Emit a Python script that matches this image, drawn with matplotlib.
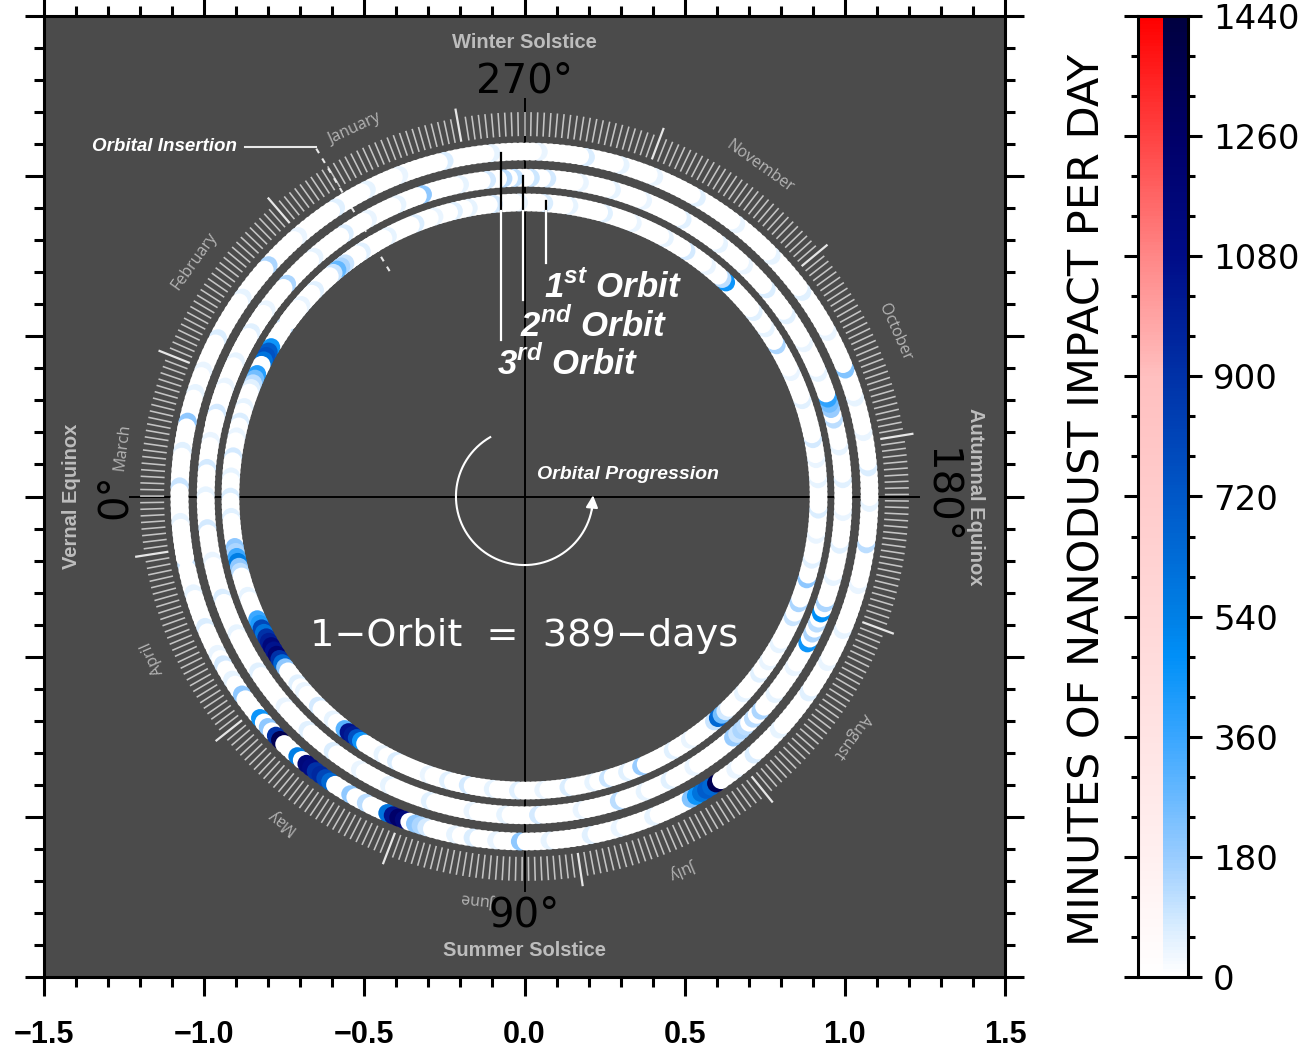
import numpy as np
import matplotlib
matplotlib.use('Agg')
import matplotlib.pyplot as plt
from matplotlib.colors import LinearSegmentedColormap, Normalize
from matplotlib.collections import LineCollection
from matplotlib.ticker import MultipleLocator

plt.rcParams['mathtext.fontset'] = 'custom'
plt.rcParams['mathtext.bf'] = 'Liberation Sans:bold:italic'
plt.rcParams['mathtext.rm'] = 'Liberation Sans:bold:italic'

ORBIT_DAYS = 389
INSERT_LON = 300.9          # solar longitude at orbital insertion (deg)
DEG_PER_DAY = 360 / 365.25

# minutes of nanodust impact per day, for each orbit (unlisted days are 0)
orbit1_days = [2, 5, 8, 12, 15, 18, 20, 24, 29, 30, 31, 32, 35, 36, 37, 38,
               42, 45, 48, 52, 56, 60, 64, 70, 71, 72, 73, 74, 75, 80,
               85, 86, 87, 88, 89, 90, 91, 92, 93, 94, 95, 96, 100, 102, 106, 110,
               113, 114, 115, 116, 117, 122, 125, 132, 136, 140, 145, 150, 155,
               160, 165, 168, 172, 175, 182, 186, 192, 193, 194, 195, 200, 205,
               208, 212, 218, 221, 226, 230, 235, 240, 246, 250, 254, 262, 268,
               274, 278, 282, 290, 291, 295, 300, 305, 312, 318, 325, 330, 335,
               340, 345, 348, 352, 356, 362, 368, 372, 373, 374, 375, 380, 384]
orbit1_minutes = [60, 70, 50, 60, 40, 80, 50, 100, 450, 700, 750, 600, 400, 250, 120, 60,
                  50, 70, 40, 80, 50, 70, 60, 200, 150, 350, 550, 200, 120, 50,
                  350, 420, 800, 600, 900, 1000, 1150, 1050, 1200, 900, 650, 200, 60, 40, 80, 50,
                  300, 1050, 1000, 750, 450, 50, 70, 40, 60, 80, 50, 60, 40,
                  70, 50, 100, 60, 180, 60, 40, 100, 650, 250, 80, 50, 60,
                  40, 50, 100, 150, 200, 60, 40, 70, 50, 40, 80, 60, 40,
                  150, 50, 60, 450, 120, 40, 80, 50, 40, 60, 50, 70, 40,
                  80, 50, 60, 40, 70, 50, 60, 100, 150, 280, 100, 60, 40]

orbit2_days = [2, 5, 10, 15, 26, 31, 36, 42, 48, 55, 62, 70, 78, 84, 90, 96,
               102, 110, 118, 124, 130, 138, 145, 150, 155, 160, 169, 170, 171,
               172, 174, 176, 180, 186, 191, 193, 195, 197, 199, 204, 210, 216,
               222, 228, 233, 235, 236, 237, 242, 248, 254, 260, 266, 272, 280,
               288, 294, 300, 306, 309, 312, 314, 317, 322, 329, 334, 340, 345,
               352, 359, 365, 370, 376, 381, 386]
orbit2_minutes = [50, 60, 40, 70, 40, 80, 50, 80, 40, 70, 50, 60, 40, 60, 70, 40,
                  50, 60, 40, 50, 80, 40, 120, 50, 60, 40, 180, 100, 150,
                  120, 120, 150, 50, 40, 450, 150, 120, 480, 150, 50, 60, 40,
                  60, 50, 120, 180, 250, 380, 50, 40, 60, 70, 40, 50, 60,
                  40, 50, 40, 80, 90, 110, 120, 80, 50, 200, 50, 40, 70,
                  50, 150, 40, 60, 50, 40, 80]

orbit3_days = [3, 7, 10, 15, 19, 24, 29, 35, 40, 42, 45, 48, 53, 55, 57, 58,
               62, 64, 65, 66, 67, 68, 69, 73, 76, 80, 81, 82, 83, 85, 86, 87,
               92, 95, 99, 103, 108, 115, 120, 126, 133, 134, 135, 136, 137, 138,
               142, 146, 152, 160, 166, 172, 180, 187, 194, 200, 206, 212, 217,
               224, 232, 240, 248, 256, 264, 270, 276, 284, 292, 300, 308, 314,
               320, 328, 335, 342, 350, 356, 360, 365, 370, 376, 382]
orbit3_minutes = [50, 40, 60, 50, 40, 100, 50, 70, 40, 80, 50, 200, 450, 200, 900, 1350,
                  550, 1150, 1100, 900, 950, 800, 650, 200, 120, 600, 1050, 1250, 1150, 200, 150, 80,
                  50, 70, 40, 200, 50, 60, 40, 50, 220, 450, 600, 700, 650, 1350,
                  40, 70, 50, 60, 40, 50, 40, 120, 50, 70, 40, 50, 220,
                  40, 60, 50, 40, 60, 40, 50, 70, 40, 50, 70, 40, 50,
                  60, 40, 150, 50, 70, 40, 50, 200, 60, 100, 50]

orbits = [(orbit1_days, orbit1_minutes),
          (orbit2_days, orbit2_minutes),
          (orbit3_days, orbit3_minutes)]
ring_radius = [0.918, 0.995, 1.077]

month_start_doy = [1, 32, 60, 91, 121, 152, 182, 213, 244, 274, 305, 335]
month_names = ['January', 'February', 'March', 'April', 'May', 'June',
               'July', 'August', 'October', 'November']
month_mid_doy = [16, 46, 75, 106, 136, 167, 197, 228, 289, 320]

cbar_ticks = [0, 180, 360, 540, 720, 900, 1080, 1260, 1440]

blue_cmap = LinearSegmentedColormap.from_list('dust_blue', [
    (0.0, '#ffffff'), (0.042, '#dff0ff'), (0.125, '#98ccff'),
    (0.25, '#38a6ff'), (0.333, '#0090f8'), (0.375, '#0080e6'),
    (0.5, '#0058c8'), (0.625, '#0032a8'), (0.75, '#000d88'),
    (0.875, '#000068'), (1.0, '#000040')])
red_cmap = LinearSegmentedColormap.from_list('dust_red', [
    (0.0, '#ffffff'), (0.125, '#fff0f0'), (0.25, '#ffe4e4'),
    (0.375, '#ffd8d8'), (0.625, '#ffc0c0'), (0.75, '#ff8888'),
    (0.875, '#ff4444'), (1.0, '#ff0000')])
norm = Normalize(0, 1440)

BG = '#4b4b4b'
GREY = '#bdbdbd'
NARROW = ['Liberation Sans Narrow', 'Liberation Sans', 'DejaVu Sans']


def lon_xy(lon, r):
    t = np.deg2rad(lon)
    return -r * np.cos(t), -r * np.sin(t)


def doy_lon(doy):
    return 270 + (np.asarray(doy) - 356) * DEG_PER_DAY


fig = plt.figure(figsize=(13.06, 10.58), dpi=100)
ax = fig.add_axes([44 / 1306, 81 / 1058, 961 / 1306, 961 / 1058])
ax.set_facecolor(BG)
ax.set_xlim(-1.5, 1.5)
ax.set_ylim(-1.5, 1.5)
for a in (ax.xaxis, ax.yaxis):
    a.set_major_locator(MultipleLocator(0.5))
    a.set_minor_locator(MultipleLocator(0.1))
ax.tick_params(which='both', direction='out', top=True, right=True,
               labelleft=False, width=2.2, colors='black')
ax.tick_params(which='major', length=14, pad=17, labelsize=22)
ax.tick_params(which='minor', length=7)
for s in ax.spines.values():
    s.set_linewidth(2.2)
for lab in ax.get_xticklabels():
    lab.set_family(NARROW)
    lab.set_weight('bold')

# reference cross
ax.plot([-1.23, 1.23], [0, 0], color='black', lw=1.4, zorder=1)
ax.plot([0, 0], [-1.23, 1.24], color='black', lw=1.4, zorder=1)

# day ticks around the year, longer at the start of each month
doy = np.arange(1, 366)
tick_lon = doy_lon(doy)
is_month = np.isin(doy, month_start_doy)
segs = []
for lon, m in zip(tick_lon, is_month):
    x0, y0 = lon_xy(lon, 1.125)
    x1, y1 = lon_xy(lon, 1.23 if m else 1.20)
    segs.append([(x0, y0), (x1, y1)])
ax.add_collection(LineCollection(segs, colors=[('#e6e6e6' if m else '#c4c4c4') for m in is_month],
                                 linewidths=[1.6 if m else 1.15 for m in is_month], zorder=2))

for name, mid in zip(month_names, month_mid_doy):
    lon = float(doy_lon(mid))
    x, y = lon_xy(lon, 1.265)
    ax.text(x, y, name, rotation=lon + 90, rotation_mode='anchor',
            ha='center', va='center', color='#b4b4b4', fontsize=11.5,
            family=['Open Sans', 'DejaVu Sans'])

# orbital insertion marker
x0, y0 = lon_xy(INSERT_LON, 0.82)
x1, y1 = lon_xy(INSERT_LON, 1.267)
ax.plot([x0, x1], [y0, y1], color='#e8e8e8', lw=1.5, dashes=(2.5, 3), zorder=2)
ax.plot([-0.873, x1], [1.092, 1.092], color='#e8e8e8', lw=1.5, zorder=2)
ax.text(-0.898, 1.092, 'Orbital Insertion', ha='right', va='center', color='white',
        fontsize=13.5, weight='bold', style='italic', family=NARROW)

# the three orbits, one ring each
for k, (days, mins) in enumerate(orbits):
    minutes = np.zeros(ORBIT_DAYS)
    minutes[days] = mins
    d = np.arange(ORBIT_DAYS)
    lon = INSERT_LON + (ORBIT_DAYS * k + d) * DEG_PER_DAY
    x, y = lon_xy(lon, ring_radius[k])
    ax.scatter(x, y, c=minutes, cmap=blue_cmap, norm=norm, s=168,
               linewidths=0, zorder=3)

# orbit pointers
for px, ytop, ybot, lab, lx, ly in [(0.067, 0.921, 0.73, r'1$^{\mathbf{st}}$ Orbit', 0.275, 0.652),
                                    (-0.005, 1.0, 0.614, r'2$^{\mathbf{nd}}$ Orbit', 0.215, 0.534),
                                    (-0.073, 1.073, 0.489, r'3$^{\mathbf{rd}}$ Orbit', 0.133, 0.415)]:
    ax.plot([px, px], [ytop, 0.89], color='black', lw=1.6, zorder=4)
    ax.plot([px, px], [0.89, ybot], color='white', lw=1.6, zorder=4)
    ax.text(lx, ly, lab, ha='center', va='center', color='white', fontsize=25,
            weight='bold', style='italic', family='Liberation Sans', zorder=5)

# orbital progression arrow
arc = np.linspace(300, 530, 200)
ax.plot(*lon_xy(arc, 0.214), color='white', lw=1.5, zorder=4)
ax.annotate('', xy=lon_xy(541, 0.214), xytext=lon_xy(529, 0.214),
            arrowprops=dict(arrowstyle='-|>', color='white', lw=1.5,
                            mutation_scale=18, shrinkA=0, shrinkB=0), zorder=4)
ax.text(0.039, 0.07, 'Orbital Progression', ha='left', va='center', color='white',
        fontsize=14, weight='bold', style='italic', family=NARROW)

ax.text(0, -0.436, '1\u2212Orbit  =  389\u2212days', ha='center', va='center',
        color='white', fontsize=27.5, family='DejaVu Sans')

# cardinal labels
deg = dict(ha='center', va='center', fontsize=29)
ax.text(0, 1.295, '270°', **deg)
ax.text(0, -1.308, '90°', **deg)
ax.text(-1.28, 0, '0°', rotation=90, **deg)
ax.text(1.298, 0, '180°', rotation=-90, **deg)
sol = dict(ha='center', va='center', color=GREY, fontsize=14.5, weight='bold',
           family='Liberation Sans')
ax.text(0, 1.417, 'Winter Solstice', **sol)
ax.text(0, -1.417, 'Summer Solstice', **sol)
ax.text(-1.414, 0, 'Vernal Equinox', rotation=90, **sol)
ax.text(1.408, 0, 'Autumnal Equinox', rotation=-90, **sol)

# two-column colour bar
cax = fig.add_axes([1138 / 1306, 81 / 1058, 50 / 1306, 961 / 1058])
v = np.linspace(0, 1440, 600)
img = np.stack([red_cmap(norm(v)), blue_cmap(norm(v))], axis=1)
cax.imshow(img, origin='lower', extent=[0, 2, 0, 1440], aspect='auto',
           interpolation='nearest')
cax.set_xlim(0, 2)
cax.set_ylim(0, 1440)
cax.set_xticks([])
cax.set_yticks(cbar_ticks)
cax.yaxis.set_minor_locator(MultipleLocator(60))
cax.tick_params(which='both', left=True, right=True, labelleft=False,
                labelright=True, width=2.2, direction='out')
cax.tick_params(which='major', length=10, labelsize=24.5, pad=8)
cax.tick_params(which='minor', length=5)
for s in cax.spines.values():
    s.set_linewidth(2.2)
fig.text(0.833, 0.527, 'MINUTES OF NANODUST IMPACT PER DAY', rotation=90,
         ha='center', va='center', fontsize=31)

fig.savefig('out.png', dpi=100)
